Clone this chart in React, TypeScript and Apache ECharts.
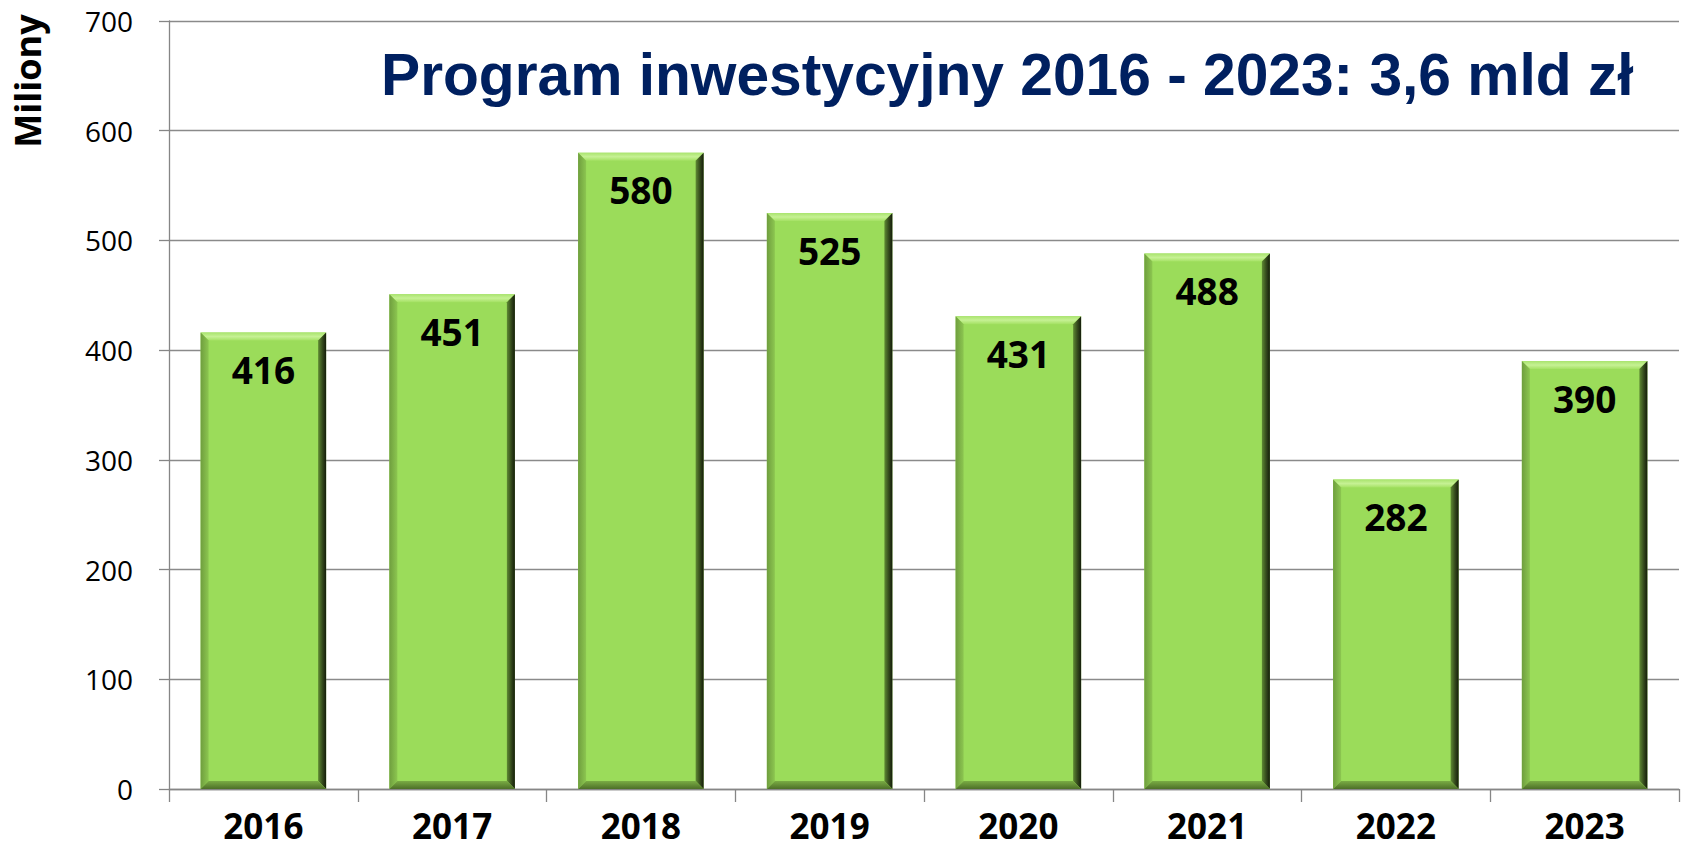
import React, { useEffect, useRef } from "react";
import * as echarts from "echarts";

const years = ["2016", "2017", "2018", "2019", "2020", "2021", "2022", "2023"];
const values = [416, 451, 580, 525, 431, 488, 282, 390];
const titleText = "Program inwestycyjny 2016 - 2023: 3,6 mld zł";
const yAxisTitle = "Miliony";

export default function App() {
  const ref = useRef<HTMLDivElement>(null);
  useEffect(() => {
    if (!ref.current) return;
    const chart = echarts.init(ref.current, null, { renderer: "svg" });
    const bevel = 8;
    const renderItem = (params: any, api: any) => {
      const idx = api.value(0);
      const v = api.value(1);
      const top = api.coord([idx, v]);
      const base = api.coord([idx, 0]);
      const w = api.size([1, 0])[0] * 0.665;
      const L = top[0] - w / 2;
      const R = top[0] + w / 2;
      const T = top[1];
      const B = base[1];
      const b = bevel;
      return {
        type: "group",
        children: [
          { type: "rect", shape: { x: L, y: T, width: w, height: B - T }, style: { fill: "#9bdc5a" } },
          {
            type: "polygon",
            shape: { points: [[L, T], [R, T], [R - b, T + b], [L + b, T + b]] },
            style: {
              fill: new echarts.graphic.LinearGradient(0, 0, 0, 1, [
                { offset: 0, color: "#a9e46e" },
                { offset: 0.5, color: "#c6f194" },
                { offset: 1, color: "#a4e163" },
              ]),
            },
          },
          {
            type: "polygon",
            shape: { points: [[L, T], [L + b, T + b], [L + b, B - b], [L, B]] },
            style: {
              fill: new echarts.graphic.LinearGradient(0, 0, 1, 0, [
                { offset: 0, color: "#6f9e3e" },
                { offset: 1, color: "#8cc650" },
              ]),
            },
          },
          {
            type: "polygon",
            shape: { points: [[R, T], [R, B], [R - b, B - b], [R - b, T + b]] },
            style: {
              fill: new echarts.graphic.LinearGradient(0, 0, 1, 0, [
                { offset: 0, color: "#5f8a33" },
                { offset: 0.55, color: "#34491c" },
                { offset: 1, color: "#141c0a" },
              ]),
            },
          },
          {
            type: "polygon",
            shape: { points: [[L, B], [R, B], [R - b, B - b], [L + b, B - b]] },
            style: {
              fill: new echarts.graphic.LinearGradient(0, 0, 0, 1, [
                { offset: 0, color: "#7aac44" },
                { offset: 1, color: "#4d7028" },
              ]),
            },
          },
          {
            type: "text",
            x: top[0],
            y: T + 37,
            style: {
              text: String(v),
              fontFamily: "Open Sans",
              fontWeight: "bold",
              fontSize: 37,
              fill: "#000000",
              align: "center",
              verticalAlign: "middle",
            },
          },
        ],
      };
    };
    chart.setOption({
      animation: false,
      backgroundColor: "#ffffff",
      grid: { left: 169, right: 6, top: 21, bottom: 58, containLabel: false },
      xAxis: {
        type: "category",
        data: years,
        boundaryGap: true,
        axisLine: { show: true, lineStyle: { color: "#868686", width: 1.3 } },
        axisTick: { show: true, length: 13, alignWithLabel: false, lineStyle: { color: "#868686", width: 1.3 } },
        axisLabel: {
          color: "#000000",
          fontFamily: "Open Sans",
          fontWeight: "bold",
          fontSize: 35,
          lineHeight: 34,
          margin: 19,
        },
        splitLine: { show: false },
      },
      yAxis: {
        type: "value",
        min: 0,
        max: 700,
        interval: 100,
        axisLine: { show: true, lineStyle: { color: "#868686", width: 1.3 } },
        axisTick: { show: true, length: 10, lineStyle: { color: "#868686", width: 1.3 } },
        axisLabel: {
          color: "#000000",
          fontFamily: "Open Sans",
          fontSize: 28,
          margin: 36,
        },
        splitLine: { show: true, lineStyle: { color: "#8a8a8a", width: 1.3 } },
      },
      graphic: [
        {
          type: "text",
          left: 381,
          top: 45,
          style: {
            text: titleText,
            fontFamily: "Liberation Sans",
            fontWeight: "bold",
            fontSize: 58.7,
            fill: "#002060",
          },
        },
        {
          type: "text",
          x: 27,
          y: 81,
          rotation: Math.PI / 2,
          style: {
            text: yAxisTitle,
            fontFamily: "Open Sans",
            fontWeight: "bold",
            fontSize: 36,
            fill: "#000000",
            align: "center",
            verticalAlign: "middle",
          },
        },
      ],
      series: [
        {
          type: "custom",
          renderItem,
          data: values.map((v, i) => [i, v]),
          encode: { x: 0, y: 1 },
        },
      ],
    });
    return () => chart.dispose();
  }, []);
  return (
    <div
      ref={ref}
      style={{ position: "fixed", left: 0, top: 0, width: 1685, height: 847 }}
    />
  );
}
